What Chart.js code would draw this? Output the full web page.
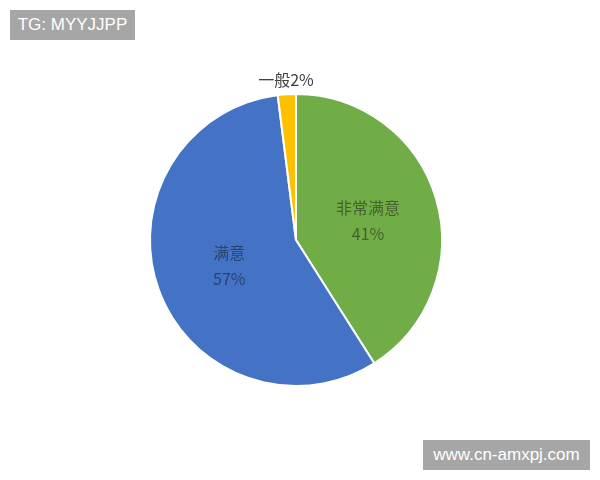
<!DOCTYPE html>
<html>
<head>
<meta charset="utf-8">
<script src="https://cdn.jsdelivr.net/npm/chart.js@4/dist/chart.umd.min.js"></script>
<style>
    html, body { margin: 0; padding: 0; background: #fff; }
    #wrap { position: relative; width: 600px; height: 480px; }
    .mark {
        position: absolute;
        background: #a6a6a6;
        color: #fff;
        font-family: "Liberation Sans", Arial, sans-serif;
        font-size: 17px;
        line-height: 30px;
        text-align: center;
    }
</style>
</head>
<body>
<div id="wrap">
    <canvas id="chart" width="600" height="480"></canvas>
    <div class="mark" style="left:10px;top:10px;width:125px;height:30px;">TG: MYYJJPP</div>
    <div class="mark" style="left:423px;top:440px;width:167px;height:30px;">www.cn-amxpj.com</div>
</div>
<script>
const categories = ["非常满意", "满意", "一般"];
const shares = [41, 57, 2];
const sliceColors = ["#70AD47", "#4472C4", "#FFC000"];
// which slices get their label drawn outside the pie
const outsideLabels = [false, false, true];

const pieLabels = {
    id: "pieLabels",
    afterDatasetsDraw(chart) {
        const ctx = chart.ctx;
        const arcs = chart.getDatasetMeta(0).data;
        ctx.save();
        ctx.font = '16px "Noto Sans CJK SC", sans-serif';
        ctx.textAlign = "center";
        ctx.textBaseline = "middle";
        arcs.forEach((arc, i) => {
            const mid = (arc.startAngle + arc.endAngle) / 2;
            if (outsideLabels[i]) {
                const r = arc.outerRadius + 14;
                ctx.fillStyle = "#404040";
                ctx.fillText(categories[i] + shares[i] + "%", arc.x + Math.cos(mid) * r, arc.y + Math.sin(mid) * r);
            } else {
                const r = arc.outerRadius * 0.5;
                const x = arc.x + Math.cos(mid) * r;
                const y = arc.y + Math.sin(mid) * r;
                ctx.fillStyle = "rgba(20,20,20,0.5)";
                ctx.fillText(categories[i], x + 2, y - 12);
                ctx.fillText(shares[i] + "%", x + 2, y + 14);
            }
        });
        ctx.restore();
    },
};

new Chart(document.getElementById("chart").getContext("2d"), {
    type: "pie",
    data: {
        labels: categories,
        datasets: [{
            data: shares,
            backgroundColor: sliceColors,
            borderColor: "#ffffff",
            borderWidth: 2,
        }],
    },
    options: {
        responsive: false,
        animation: false,
        layout: { padding: { top: 93, bottom: 93, left: 149, right: 157 } },
        plugins: {
            legend: { display: false },
            tooltip: { enabled: false },
        },
    },
    plugins: [pieLabels],
});
</script>
</body>
</html>
